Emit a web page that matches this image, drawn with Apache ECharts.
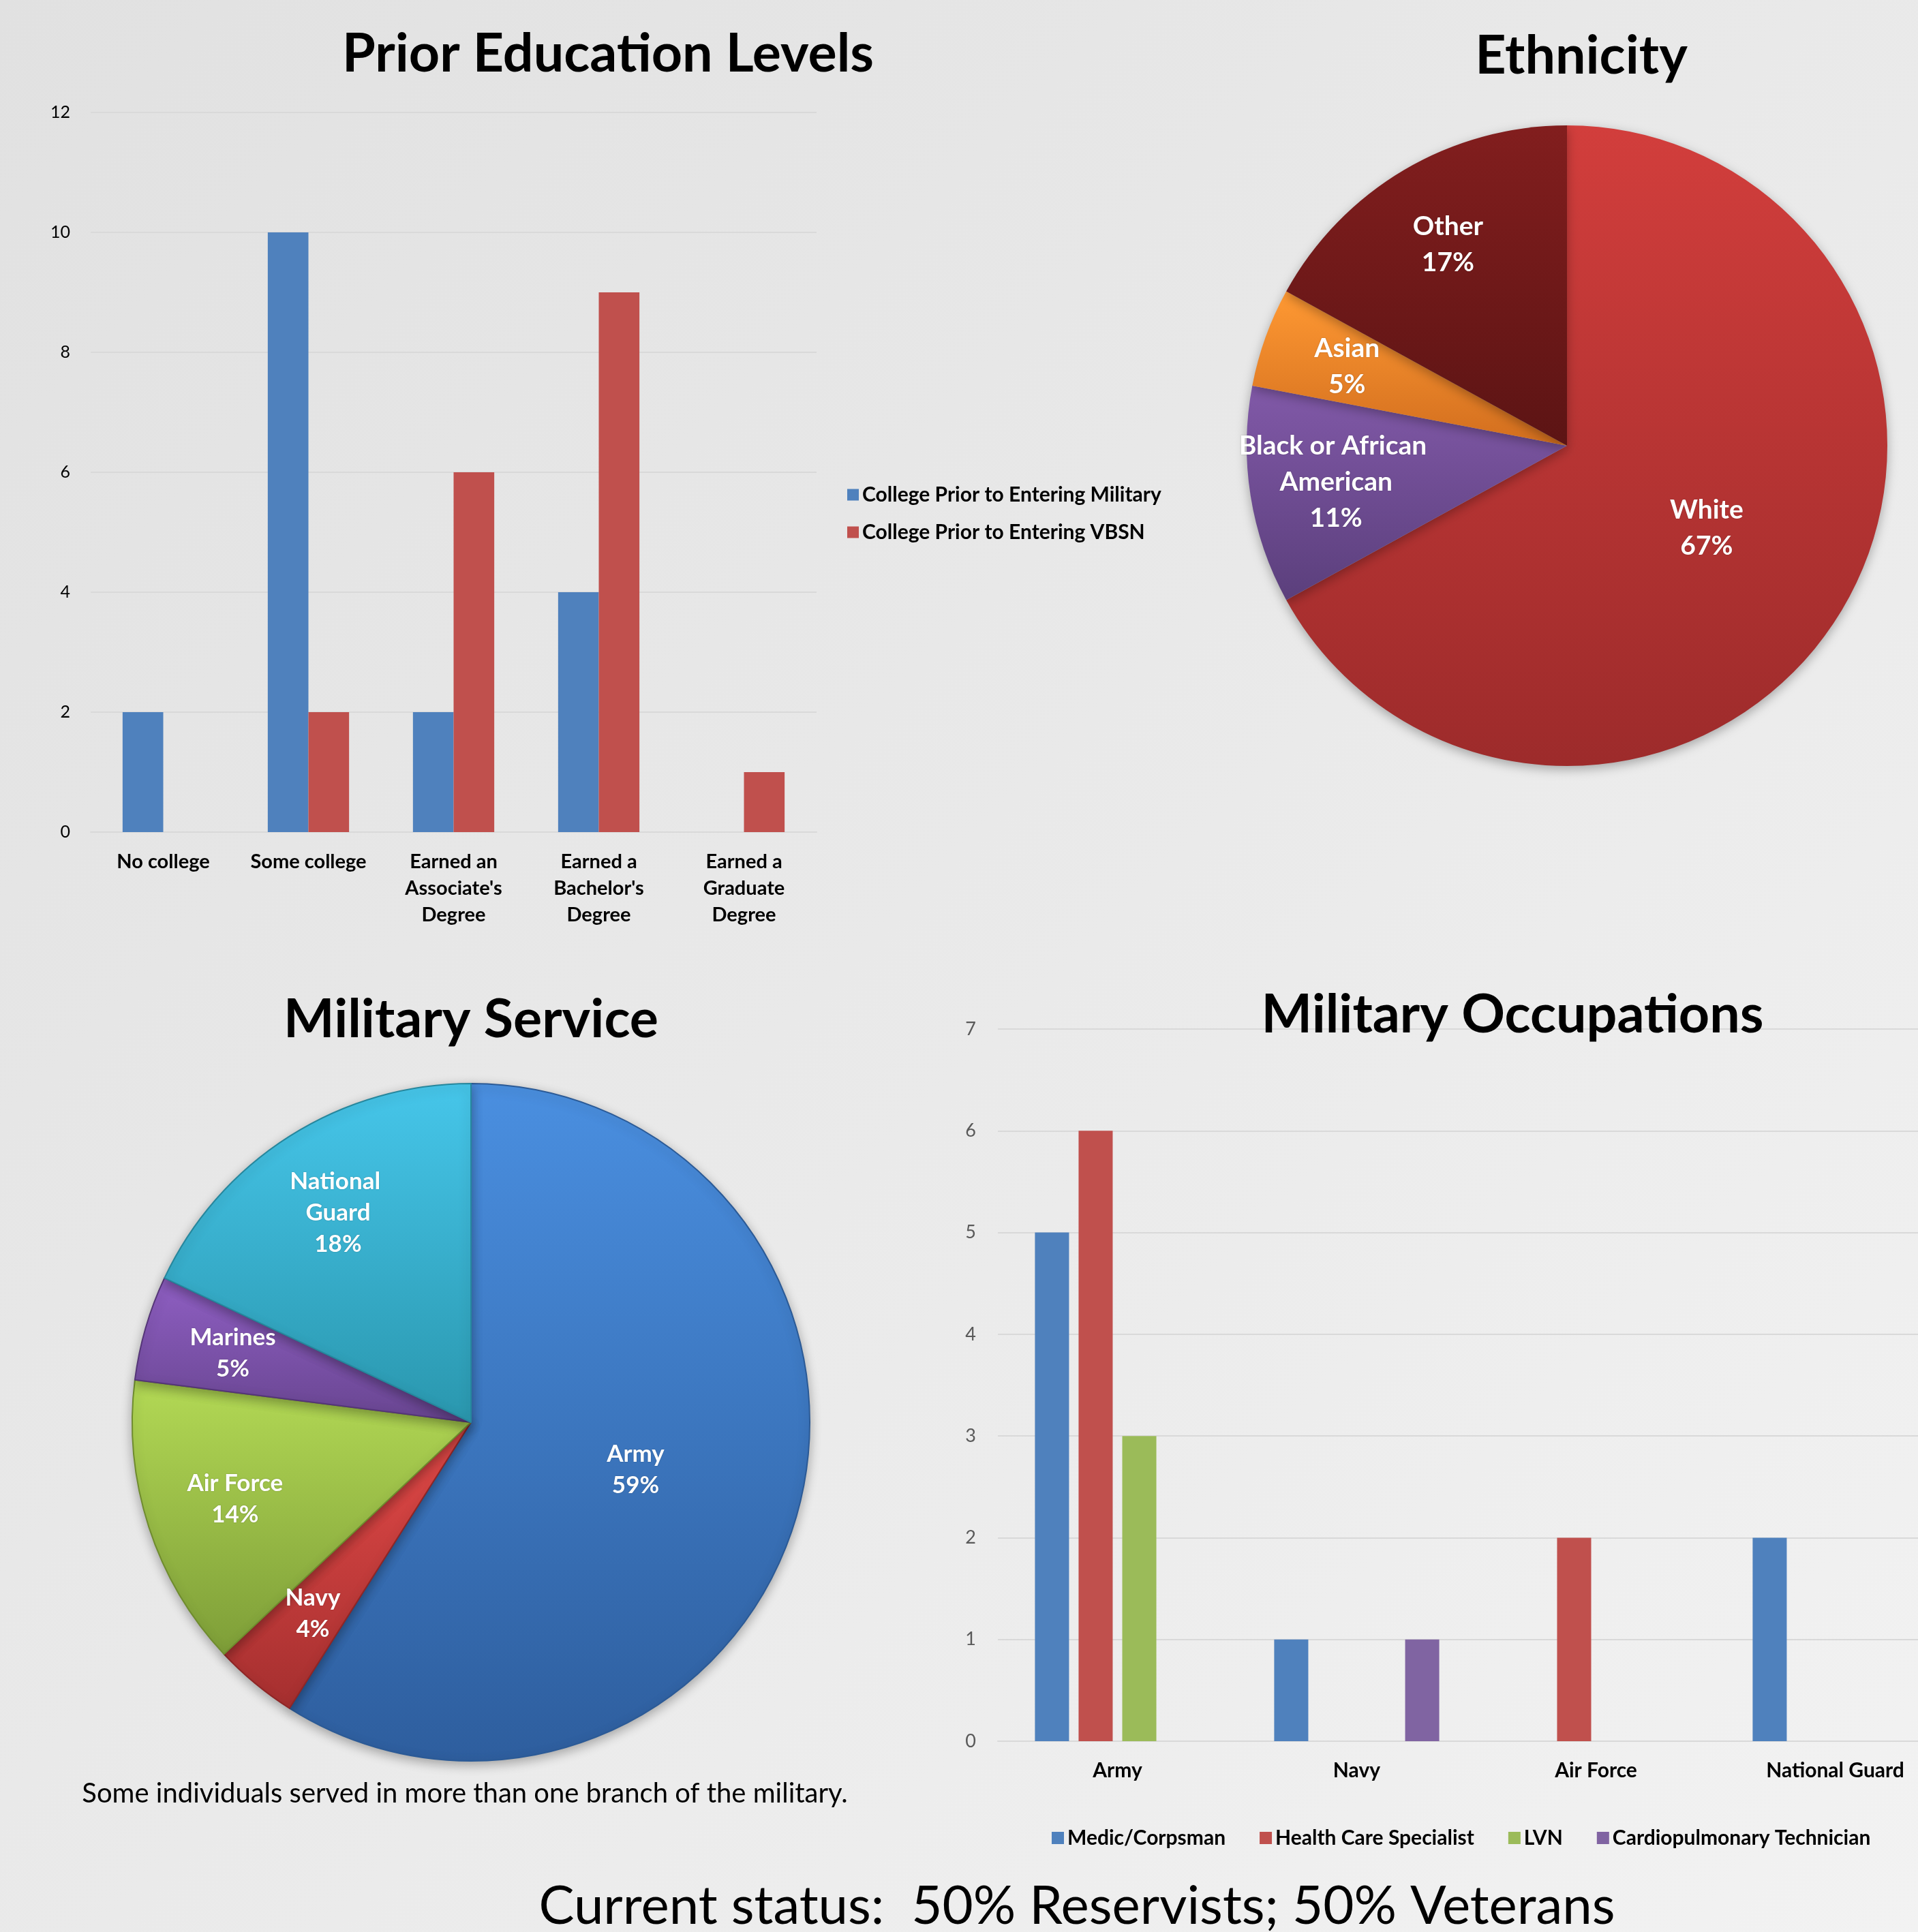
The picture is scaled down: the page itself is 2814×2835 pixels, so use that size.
<!DOCTYPE html>
<html><head><meta charset="utf-8">
<script src="https://cdn.jsdelivr.net/npm/echarts@6/dist/echarts.min.js"></script>
<style>html,body{margin:0;padding:0;}#c{width:2814px;height:2835px;}</style>
</head><body><div id="c"></div>
<script>
// ---------- DATA ----------
const eduTickLabels = ['No college', 'Some college', "Earned an\nAssociate's\nDegree", "Earned a\nBachelor's\nDegree", "Earned a\nGraduate\nDegree"];
const eduSeriesNames = ['College Prior to Entering Military', 'College Prior to Entering VBSN'];
const eduMilitary = [2, 10, 2, 4, 0];
const eduVBSN = [0, 2, 6, 9, 1];

const ethNames = ['White', 'Black or African American', 'Asian', 'Other'];
const ethValues = [67, 11, 5, 17];

const svcNames = ['Army', 'Navy', 'Air Force', 'Marines', 'National Guard'];
const svcValues = [59, 4, 14, 5, 18];

const occCategories = ['Army', 'Navy', 'Air Force', 'National Guard'];
const occSeriesNames = ['Medic/Corpsman', 'Health Care Specialist', 'LVN', 'Cardiopulmonary Technician'];
const occMedic = [5, 1, 0, 2];
const occHCS = [6, 0, 2, 0];
const occLVN = [3, 0, 0, 0];
const occCardio = [0, 1, 0, 0];

const titles = ['Prior Education Levels', 'Ethnicity', 'Military Service', 'Military Occupations'];
const captionText = 'Some individuals served in more than one branch of the military.';
const statusText = 'Current status:  50% Reservists; 50% Veterans';

// ---------- STYLE ----------
const FONT = 'Lato';
const barBlue = '#4f81bd', barRed = '#c0504d', barGreen = '#9bbb59', barPurple = '#8064a2';
const grad = (a, b) => new echarts.graphic.LinearGradient(0, 0, 0, 1, [{offset: 0, color: a}, {offset: 1, color: b}]);
const ethColors = [grad('#d23e3c', '#9d2b2b'), grad('#8159a8', '#5b3f7c'), grad('#ff9933', '#d26e1e'), grad('#821e1e', '#5c1414')];
const svcColors = [grad('#4a8fe0', '#2e5e9e'), grad('#e34a48', '#a52f2f'), grad('#b3d955', '#7e9e38'), grad('#8f5fc3', '#684590'), grad('#46c6ea', '#2a97ae')];
const svcBorders = ['#2b5a96', '#8f2626', '#6f8c2e', '#553578', '#26879d'];

const chart = echarts.init(document.getElementById('c'), null, {renderer: 'canvas'});

const titleStyle = {fontFamily: FONT, fontWeight: 'bold', fontSize: 79, color: '#000'};
function mkTitle(text, x, y, style) {
  return {text: text, left: x, top: y, textAlign: 'center', textVerticalAlign: 'middle', padding: 0, textStyle: style};
}

const maxEth = Math.max(...ethValues);
const maxSvc = Math.max(...svcValues);
const pctFmt = p => p.name + '\n' + Math.round(p.percent) + '%';
const pieLabel = (w, fs, lh) => ({position: 'inside', formatter: pctFmt, color: '#fff', fontFamily: FONT, fontWeight: 'bold', fontSize: fs, lineHeight: lh, width: w, overflow: 'break', textShadowColor: 'rgba(0,0,0,0.25)', textShadowBlur: 2});

const option = {
  backgroundColor: new echarts.graphic.LinearGradient(0, 0, 1, 1, [{offset: 0, color: '#e1e1e1'}, {offset: 1, color: '#f2f2f2'}]),
  animation: false,
  title: [
    mkTitle(titles[0], 892, 80, titleStyle),
    mkTitle(titles[1], 2320, 83, titleStyle),
    mkTitle(titles[2], 691, 1497, titleStyle),
    mkTitle(titles[3], 2219, 1490, titleStyle),
    mkTitle(captionText, 682, 2632, {fontFamily: FONT, fontWeight: 'normal', fontSize: 40, color: '#000'}),
    mkTitle(statusText, 1580, 2798, {fontFamily: FONT, fontWeight: 'normal', fontSize: 78, color: '#000'})
  ],
  legend: [
    {data: eduSeriesNames, orient: 'vertical', left: 1243, top: 711, padding: 0, itemWidth: 17, itemHeight: 17, itemGap: 25, icon: 'rect',
     textStyle: {fontFamily: FONT, fontWeight: 'bold', fontSize: 30, color: '#000'}},
    {data: occSeriesNames, orient: 'horizontal', left: 1543, top: 2682, padding: 0, itemWidth: 18, itemHeight: 18, itemGap: 50, icon: 'rect',
     textStyle: {fontFamily: FONT, fontWeight: 'bold', fontSize: 30, color: '#000'}}
  ],
  grid: [
    {left: 133, top: 165, width: 1065, height: 1056, outerBoundsMode: 'none'},
    {left: 1464, top: 1510, width: 1404, height: 1045, outerBoundsMode: 'none'}
  ],
  xAxis: [
    {type: 'category', gridIndex: 0, data: eduTickLabels, axisTick: {show: false},
     axisLine: {lineStyle: {color: '#d9d9d9', width: 2}},
     axisLabel: {interval: 0, margin: 24, fontFamily: FONT, fontWeight: 'bold', fontSize: 29, lineHeight: 39, color: '#000'}},
    {type: 'category', gridIndex: 1, data: occCategories, axisTick: {show: false},
     axisLine: {lineStyle: {color: '#d9d9d9', width: 2}},
     axisLabel: {interval: 0, margin: 28, fontFamily: FONT, fontWeight: 'bold', fontSize: 30, color: '#000'}}
  ],
  yAxis: [
    {type: 'value', gridIndex: 0, min: 0, max: 12, interval: 2, axisLine: {show: false}, axisTick: {show: false},
     splitLine: {lineStyle: {color: '#d9d9d9', width: 2}},
     axisLabel: {margin: 30, fontFamily: FONT, fontSize: 25, color: '#000'}},
    {type: 'value', gridIndex: 1, min: 0, max: 7, interval: 1, axisLine: {show: false}, axisTick: {show: false},
     splitLine: {lineStyle: {color: '#d9d9d9', width: 2}},
     axisLabel: {margin: 32, fontFamily: FONT, fontSize: 27, color: '#595959'}}
  ],
  series: [
    {name: eduSeriesNames[0], type: 'bar', xAxisIndex: 0, yAxisIndex: 0, data: eduMilitary, barGap: '0%', barCategoryGap: '44%', itemStyle: {color: barBlue}},
    {name: eduSeriesNames[1], type: 'bar', xAxisIndex: 0, yAxisIndex: 0, data: eduVBSN, barGap: '0%', barCategoryGap: '44%', itemStyle: {color: barRed}},

    {name: occSeriesNames[0], type: 'bar', xAxisIndex: 1, yAxisIndex: 1, data: occMedic, barGap: '28%', barCategoryGap: '31%', itemStyle: {color: barBlue}},
    {name: occSeriesNames[1], type: 'bar', xAxisIndex: 1, yAxisIndex: 1, data: occHCS, barGap: '28%', barCategoryGap: '31%', itemStyle: {color: barRed}},
    {name: occSeriesNames[2], type: 'bar', xAxisIndex: 1, yAxisIndex: 1, data: occLVN, barGap: '28%', barCategoryGap: '31%', itemStyle: {color: barGreen}},
    {name: occSeriesNames[3], type: 'bar', xAxisIndex: 1, yAxisIndex: 1, data: occCardio, barGap: '28%', barCategoryGap: '31%', itemStyle: {color: barPurple}},

    // Ethnicity pie
    {type: 'pie', center: [2299, 654], radius: [0, 470], startAngle: 90, clockwise: true, silent: true,
     label: pieLabel(340, 39, 53), labelLine: {show: false},
     itemStyle: {shadowBlur: 16, shadowColor: 'rgba(0,0,0,0.3)', shadowOffsetY: 5},
     data: ethNames.map((n, i) => ({name: n, value: ethValues[i], itemStyle: {color: ethColors[i]}, label: {show: ethValues[i] === maxEth}}))},
    {type: 'pie', center: [2299, 654], radius: [210, 470], startAngle: 90, clockwise: true, silent: true,
     label: pieLabel(340, 39, 53), labelLine: {show: false}, itemStyle: {color: 'rgba(0,0,0,0)'},
     data: ethNames.map((n, i) => ({name: n, value: ethValues[i], label: {show: ethValues[i] !== maxEth}}))},

    // Military service pie
    {type: 'pie', center: [691, 2087], radius: [0, 497], startAngle: 90, clockwise: true, silent: true,
     label: pieLabel(190, 35, 46), labelLine: {show: false},
     itemStyle: {shadowBlur: 16, shadowColor: 'rgba(0,0,0,0.3)', shadowOffsetY: 5, borderWidth: 2},
     data: svcNames.map((n, i) => ({name: n, value: svcValues[i], itemStyle: {color: svcColors[i], borderColor: svcBorders[i]}, label: {show: svcValues[i] === maxSvc}}))},
    {type: 'pie', center: [691, 2087], radius: [225, 497], startAngle: 90, clockwise: true, silent: true,
     label: pieLabel(190, 35, 46), labelLine: {show: false}, itemStyle: {color: 'rgba(0,0,0,0)'},
     data: svcNames.map((n, i) => ({name: n, value: svcValues[i], label: {show: svcValues[i] !== maxSvc}}))}
  ]
};
chart.setOption(option);
</script>
</body></html>
